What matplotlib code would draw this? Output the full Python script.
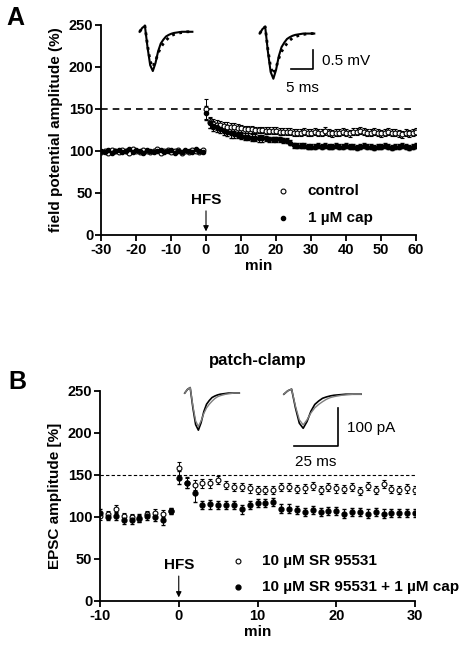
import matplotlib
matplotlib.use("Agg")
import matplotlib.pyplot as plt
from matplotlib.lines import Line2D

# ---- Panel A data ----
a_base_t = [-30,-29,-28,-27,-26,-25,-24,-23,-22,-21,-20,-19,-18,-17,-16,-15,-14,-13,-12,-11,-10,-9,-8,-7,-6,-5,-4,-3,-2,-1]
a_ctrl_base = [99,100,98,101,100,99,101,100,98,102,100,99,101,100,99,100,102,98,100,101,99,100,101,98,100,99,101,100,99,101]
a_cap_base  = [100,99,101,98,100,101,99,100,102,99,101,100,98,101,100,99,100,101,99,100,101,98,100,99,101,100,99,102,100,99]
a_post_t = list(range(0, 61))
a_ctrl_post = [150,134,132,131,131,130,129,128,128,127,127,126,126,126,125,125,125,124,124,124,124,123,123,123,123,122,122,122,123,122,122,
               123,122,122,124,122,121,122,122,123,122,121,123,123,124,123,122,122,123,122,121,122,123,122,122,121,120,122,121,122,123]
a_cap_post  = [145,133,130,128,126,124,123,121,120,119,118,117,117,116,116,115,115,115,114,114,114,114,113,112,110,107,106,106,106,105,105,
               105,106,105,106,105,105,106,105,105,106,105,105,104,105,106,105,105,104,105,105,106,105,104,105,105,106,105,104,105,106]
a_ctrl_err = [12,7,6,6,5,5,5,5,5,5,4,4,4,4,4,4,4,4,4,4,4,4,4,4,4,4,4,4,4,4,4,
              4,4,4,5,4,4,4,4,4,4,4,4,4,4,4,4,4,4,4,4,4,4,4,4,4,4,4,4,4,4]
a_cap_err = [8,6,6,5,5,5,5,5,4,4,4,4,4,4,4,4,4,3,3,3,3,3,3,3,3,3,3,3,3,3,3,
             3,3,3,3,3,3,3,3,3,3,3,3,3,3,3,3,3,3,3,3,3,3,3,3,3,3,3,3,3,3]

# ---- Panel B data ----
b_t = list(range(-10, 31))
b_ctrl = [101,103,110,101,100,98,103,105,104,107,158,141,138,140,140,144,138,136,136,134,132,132,132,136,136,133,134,137,132,136,134,
          133,136,131,137,132,139,133,132,134,132]
b_ctrl_err = [4,4,4,4,4,4,4,4,4,4,8,6,6,5,5,5,5,5,5,5,5,5,5,5,5,5,5,5,5,5,5,5,5,5,5,5,5,5,5,5,5]
b_cap = [105,100,101,97,97,99,101,100,96,107,147,141,128,114,115,114,114,114,109,114,117,117,118,110,110,108,106,108,106,107,107,
         104,106,106,104,106,104,105,105,105,105]
b_cap_err = [4,4,4,5,5,5,5,5,6,4,8,7,10,5,5,5,5,5,5,5,5,5,5,5,5,5,5,5,5,5,5,5,5,5,5,5,5,5,5,5,5]

# trace shape samples
tr_x = [0,1,2,3,4,5,6,7,8,9,10,11,12,13,14,15,16,17,18,19,20]
tr_y = [0,0.1,0.15,-0.4,-0.85,-1.0,-0.8,-0.5,-0.3,-0.2,-0.12,-0.08,-0.05,-0.03,-0.02,-0.01,0,0,0,0,0]
tr_y2 = [0,0.1,0.15,-0.35,-0.75,-0.9,-0.75,-0.55,-0.4,-0.3,-0.22,-0.15,-0.1,-0.07,-0.05,-0.03,-0.02,-0.01,0,0,0]

plt.rcParams['font.family'] = ['Liberation Sans', 'DejaVu Sans']
plt.rcParams['font.weight'] = 'bold'
plt.rcParams['axes.unicode_minus'] = False
fig = plt.figure(figsize=(4.67, 6.49), dpi=100)
W, H = 467, 649
def ax_px(l, t, r, b):
    return fig.add_axes([l/W, 1-b/H, (r-l)/W, (b-t)/H])
def fline(xs, ys):
    fig.add_artist(Line2D([x/W for x in xs], [1-y/H for y in ys], color='black', lw=1.2))
def ftext(x, y, s, **kw):
    fig.text(x/W, 1-y/H, s, **kw)

def style(ax):
    for s in ['top','right']:
        ax.spines[s].set_visible(False)
    for s in ['left','bottom']:
        ax.spines[s].set_linewidth(1.3)
    ax.tick_params(labelsize=10.5, width=1.3, length=4, pad=1.5)
    for lab in ax.get_xticklabels()+ax.get_yticklabels():
        lab.set_fontweight('bold')

# Panel A
ax = ax_px(101, 25, 416, 235)
at = a_base_t + a_post_t
ax.errorbar(at, a_ctrl_base + a_ctrl_post, yerr=[0]*30 + a_ctrl_err, fmt='o', mfc='white', mec='black',
            ms=3.5, mew=0.8, ecolor='black', elinewidth=0.7, capsize=1.5)
ax.errorbar(at, a_cap_base + a_cap_post, yerr=[0]*30 + a_cap_err, fmt='o', color='black',
            ms=3, ecolor='black', elinewidth=0.7, capsize=1.5)
ax.axhline(150, color='black', ls='--', lw=1.2, dashes=(4, 3))
ax.set_xlim(-30, 60); ax.set_ylim(0, 250)
ax.set_xticks(range(-30, 61, 10)); ax.set_yticks(range(0, 251, 50))
ax.set_xlabel('min', fontsize=11, fontweight='bold', labelpad=2)
ax.set_ylabel('field potential amplitude (%)', fontsize=11, fontweight='bold', labelpad=4)
style(ax)
ax.annotate('', xy=(0, 1), xytext=(0, 32), arrowprops=dict(arrowstyle='-|>', color='black', lw=0.8, mutation_scale=8))
ax.text(0, 33, 'HFS', ha='center', va='bottom', fontsize=11, fontweight='bold')
ax.plot([22], [52], 'o', mfc='white', mec='black', ms=3.5, mew=0.8)
ax.text(29, 52, 'control', va='center', fontsize=11, fontweight='bold')
ax.plot([22], [20], 'o', color='black', ms=3)
ax.text(29, 20, '1 µM cap', va='center', fontsize=11, fontweight='bold')
ftext(15, 18, 'A', fontsize=18, fontweight='bold', va='center', ha='center')

# Panel A traces
for (l, r, t, b) in [(137, 195, 20, 73), (257, 317, 20, 81)]:
    ia = ax_px(l, t, r, b); ia.axis('off')
    ia.plot(tr_x, tr_y, 'k-', lw=1.5)
    ia.plot(tr_x, tr_y2, 'k:', lw=2)
    ia.set_ylim(-1.05, 0.3)
fline([291, 313, 313], [69, 69, 50])
ftext(322, 61, '0.5 mV', fontsize=11, va='center', fontweight='normal')
ftext(302, 88, '5 ms', fontsize=11, va='center', ha='center', fontweight='normal')

# Panel B
bx = ax_px(100, 391, 415, 601)
bx.errorbar(b_t, b_ctrl, yerr=b_ctrl_err, fmt='o', mfc='white', mec='black', ms=3.5, mew=0.8,
            ecolor='black', elinewidth=0.7, capsize=1.5)
bx.errorbar(b_t, b_cap, yerr=b_cap_err, fmt='o', color='black', ms=3.5,
            ecolor='black', elinewidth=0.7, capsize=1.5)
bx.axhline(150, color='black', ls='--', lw=0.8, dashes=(3, 2))
bx.set_xlim(-10, 30); bx.set_ylim(0, 250)
bx.set_xticks(range(-10, 31, 10)); bx.set_yticks(range(0, 251, 50))
bx.set_xlabel('min', fontsize=11, fontweight='bold', labelpad=2)
bx.set_ylabel('EPSC amplitude [%]', fontsize=11, fontweight='bold', labelpad=4)
style(bx)
bx.annotate('', xy=(0, 1), xytext=(0, 33), arrowprops=dict(arrowstyle='-|>', color='black', lw=0.8, mutation_scale=8))
bx.text(0, 34, 'HFS', ha='center', va='bottom', fontsize=11, fontweight='bold')
bx.plot([7.5], [47.5], 'o', mfc='white', mec='black', ms=3.5, mew=0.8)
bx.text(10.6, 47.5, '10 µM SR 95531', va='center', fontsize=11, fontweight='bold')
bx.plot([7.5], [16.5], 'o', color='black', ms=3.5)
bx.text(10.6, 16.5, '10 µM SR 95531 + 1 µM cap', va='center', fontsize=11, fontweight='bold')
ftext(17, 382, 'B', fontsize=18, fontweight='bold', va='center', ha='center')
ftext(258, 361, 'patch-clamp', fontsize=12, fontweight='bold', ha='center', va='center')

for (l, r, t, b) in [(182, 242, 382, 432), (280, 365, 384, 430)]:
    ia = ax_px(l, t, r, b); ia.axis('off')
    ia.plot(tr_x, tr_y, 'k-', lw=1.2)
    ia.plot(tr_x, tr_y2, color='gray', lw=1)
    ia.set_ylim(-1.05, 0.3)
fline([294, 338, 338], [446, 446, 408])
ftext(347, 428, '100 pA', fontsize=11, va='center', fontweight='normal')
ftext(316, 462, '25 ms', fontsize=11, va='center', ha='center', fontweight='normal')

fig.savefig('out.png', dpi=100)
